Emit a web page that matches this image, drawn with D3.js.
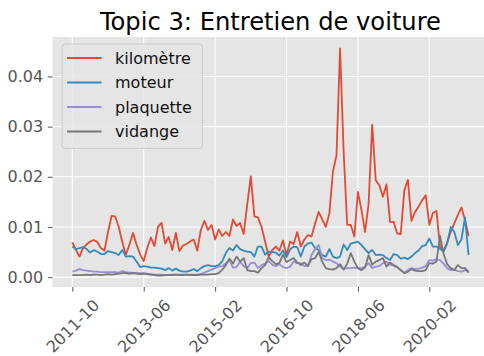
<!DOCTYPE html>
<html>
<head>
<meta charset="utf-8">
<script src="https://cdn.jsdelivr.net/npm/d3@7"></script>
<style>
  html, body { margin: 0; padding: 0; background: #ffffff; }
  svg { display: block; font-family: "DejaVu Sans", sans-serif; }
</style>
</head>
<body>
<svg id="chart" width="484" height="356"></svg>
<script>
// Monthly keyword frequencies, October 2011 to January 2021
const startMonth = new Date(2011, 9, 1);

const kilometre = [
  0.0069, 0.0055, 0.0041, 0.0058, 0.0065, 0.0071, 0.0074, 0.0070, 0.0058, 0.0053,
  0.0090, 0.0122, 0.0121, 0.0100, 0.0070, 0.0044, 0.0065, 0.0088, 0.0065, 0.0045,
  0.0032, 0.0058, 0.0079, 0.0062, 0.0100, 0.0108, 0.0067, 0.0080, 0.0054, 0.0088,
  0.0052, 0.0063, 0.0066, 0.0071, 0.0075, 0.0053, 0.0094, 0.0112, 0.0094, 0.0104,
  0.0075, 0.0095, 0.0082, 0.0090, 0.0082, 0.0115, 0.0102, 0.0108, 0.0086, 0.0145,
  0.0201, 0.0121, 0.0119, 0.0100, 0.0071, 0.0041, 0.0054, 0.0061, 0.0053, 0.0073,
  0.0044, 0.0071, 0.0066, 0.0090, 0.0061, 0.0075, 0.0084, 0.0081, 0.0107, 0.0130,
  0.0115, 0.0100, 0.0127, 0.0210, 0.0243, 0.0456, 0.0250, 0.0104, 0.0104, 0.0081,
  0.0170, 0.0134, 0.0090, 0.0147, 0.0304, 0.0193, 0.0183, 0.0160, 0.0185, 0.0110,
  0.0110, 0.0087, 0.0086, 0.0173, 0.0194, 0.0112, 0.0130, 0.0141, 0.0153, 0.0163,
  0.0104, 0.0128, 0.0132, 0.0061, 0.0053, 0.0069, 0.0090, 0.0107, 0.0124, 0.0139,
  0.0114, 0.0082
];

const moteur = [
  0.0061, 0.0056, 0.0058, 0.0060, 0.0056, 0.0049, 0.0054, 0.0051, 0.0046, 0.0046,
  0.0052, 0.0050, 0.0048, 0.0044, 0.0054, 0.0041, 0.0042, 0.0041, 0.0031, 0.0020,
  0.0022, 0.0021, 0.0019, 0.0019, 0.0018, 0.0017, 0.0014, 0.0018, 0.0013, 0.0017,
  0.0013, 0.0011, 0.0011, 0.0013, 0.0016, 0.0012, 0.0018, 0.0022, 0.0024, 0.0022,
  0.0022, 0.0024, 0.0032, 0.0048, 0.0058, 0.0053, 0.0064, 0.0056, 0.0053, 0.0051,
  0.0050, 0.0041, 0.0061, 0.0061, 0.0045, 0.0051, 0.0050, 0.0049, 0.0043, 0.0053,
  0.0040, 0.0055, 0.0061, 0.0060, 0.0041, 0.0061, 0.0067, 0.0069, 0.0058, 0.0054,
  0.0044, 0.0041, 0.0056, 0.0041, 0.0038, 0.0041, 0.0065, 0.0054, 0.0067, 0.0069,
  0.0071, 0.0064, 0.0056, 0.0048, 0.0054, 0.0044, 0.0045, 0.0044, 0.0038, 0.0034,
  0.0046, 0.0044, 0.0037, 0.0039, 0.0036, 0.0041, 0.0048, 0.0053, 0.0062, 0.0064,
  0.0077, 0.0061, 0.0061, 0.0056, 0.0051, 0.0067, 0.0100, 0.0090, 0.0064, 0.0075,
  0.0119, 0.0044
];

const plaquette = [
  0.0011, 0.0013, 0.0016, 0.0014, 0.0013, 0.0012, 0.0011, 0.0011, 0.0010, 0.0010,
  0.0010, 0.0010, 0.0010, 0.0009, 0.0012, 0.0010, 0.0009, 0.0009, 0.0008, 0.0008,
  0.0008, 0.0007, 0.0006, 0.0005, 0.0005, 0.0005, 0.0004, 0.0004, 0.0005, 0.0005,
  0.0005, 0.0005, 0.0005, 0.0005, 0.0005, 0.0005, 0.0006, 0.0009, 0.0012, 0.0015,
  0.0018, 0.0021, 0.0022, 0.0028, 0.0034, 0.0019, 0.0020, 0.0031, 0.0022, 0.0018,
  0.0028, 0.0029, 0.0018, 0.0024, 0.0027, 0.0032, 0.0025, 0.0022, 0.0026, 0.0020,
  0.0018, 0.0021, 0.0031, 0.0028, 0.0028, 0.0022, 0.0023, 0.0044, 0.0056, 0.0064,
  0.0038, 0.0034, 0.0035, 0.0031, 0.0028, 0.0021, 0.0016, 0.0018, 0.0018, 0.0019,
  0.0018, 0.0018, 0.0021, 0.0028, 0.0018, 0.0021, 0.0022, 0.0028, 0.0031, 0.0025,
  0.0023, 0.0020, 0.0014, 0.0009, 0.0014, 0.0018, 0.0016, 0.0017, 0.0019, 0.0022,
  0.0034, 0.0033, 0.0036, 0.0034, 0.0027, 0.0018, 0.0014, 0.0015, 0.0012, 0.0011,
  0.0014, 0.0012
];

const vidange = [
  0.0004, 0.0004, 0.0004, 0.0004, 0.0005, 0.0004, 0.0005, 0.0005, 0.0004, 0.0005,
  0.0006, 0.0005, 0.0006, 0.0007, 0.0008, 0.0008, 0.0007, 0.0008, 0.0007, 0.0006,
  0.0007, 0.0006, 0.0005, 0.0004, 0.0003, 0.0003, 0.0004, 0.0004, 0.0004, 0.0005,
  0.0004, 0.0004, 0.0005, 0.0004, 0.0004, 0.0004, 0.0005, 0.0005, 0.0005, 0.0006,
  0.0006, 0.0008, 0.0015, 0.0024, 0.0037, 0.0027, 0.0041, 0.0031, 0.0038, 0.0014,
  0.0012, 0.0012, 0.0009, 0.0018, 0.0024, 0.0040, 0.0032, 0.0026, 0.0028, 0.0045,
  0.0030, 0.0034, 0.0038, 0.0029, 0.0024, 0.0029, 0.0022, 0.0036, 0.0038, 0.0050,
  0.0031, 0.0018, 0.0016, 0.0015, 0.0018, 0.0026, 0.0015, 0.0027, 0.0048, 0.0031,
  0.0018, 0.0014, 0.0019, 0.0044, 0.0025, 0.0031, 0.0034, 0.0038, 0.0021, 0.0029,
  0.0024, 0.0020, 0.0014, 0.0008, 0.0011, 0.0016, 0.0013, 0.0012, 0.0012, 0.0014,
  0.0028, 0.0027, 0.0031, 0.0082, 0.0046, 0.0026, 0.0018, 0.0014, 0.0024, 0.0018,
  0.0018, 0.0009
];

const seriesNames = ["kilomètre", "moteur", "plaquette", "vidange"];
const seriesColors = ["#E24A33", "#348ABD", "#988ED5", "#777777"];
const yTickValues = [0, 0.01, 0.02, 0.03, 0.04];
const xTickLabels = ["2011-10", "2013-06", "2015-02", "2016-10", "2018-06", "2020-02"];
const titleText = "Topic 3: Entretien de voiture";

const seriesValues = [kilometre, moteur, plaquette, vidange];
const months = d3.timeMonth.range(startMonth, d3.timeMonth.offset(startMonth, kilometre.length));
const monthFmt = d3.timeFormat("%Y-%m");
const monthLabels = months.map(monthFmt);

const svg = d3.select("#chart");
const plot = { left: 52.5, right: 488.4, top: 37, bottom: 287 };

// 5% padding on both axes around the data extent
const n = kilometre.length;
const xPad = (n - 1) * 0.05;
const x = d3.scaleLinear()
  .domain([-xPad, (n - 1) + xPad])
  .range([plot.left, plot.right]);

const allVals = seriesValues.flat();
const yMin = d3.min(allVals), yMax = d3.max(allVals);
const yPad = (yMax - yMin) * 0.05;
const y = d3.scaleLinear()
  .domain([yMin - yPad, yMax + yPad])
  .range([plot.bottom, plot.top]);

svg.append("defs").append("clipPath").attr("id", "plotClip")
  .append("rect")
  .attr("x", plot.left).attr("y", plot.top)
  .attr("width", plot.right - plot.left).attr("height", plot.bottom - plot.top);

// Panel background
svg.append("rect")
  .attr("x", plot.left).attr("y", plot.top)
  .attr("width", plot.right - plot.left).attr("height", plot.bottom - plot.top)
  .attr("fill", "#E5E5E5");

// Tick positions on the month index
const xTickIdx = xTickLabels.map(l => monthLabels.indexOf(l));

// Grid
const grid = svg.append("g").attr("clip-path", "url(#plotClip)");
grid.selectAll("line.gx").data(xTickIdx).join("line")
  .attr("x1", d => x(d)).attr("x2", d => x(d))
  .attr("y1", plot.top).attr("y2", plot.bottom)
  .attr("stroke", "#ffffff").attr("stroke-width", 1.1);
grid.selectAll("line.gy").data(yTickValues).join("line")
  .attr("x1", plot.left).attr("x2", plot.right)
  .attr("y1", d => y(d)).attr("y2", d => y(d))
  .attr("stroke", "#ffffff").attr("stroke-width", 1.1);

// Axes
const xAxis = d3.axisBottom(x)
  .tickValues(xTickIdx)
  .tickFormat((d, i) => xTickLabels[i])
  .tickSize(4.7)
  .tickPadding(4.7);
const gx = svg.append("g")
  .attr("transform", `translate(0,${plot.bottom})`)
  .call(xAxis);
gx.select(".domain").remove();
gx.selectAll(".tick line").attr("stroke", "#555555").attr("stroke-width", 1);
gx.selectAll(".tick text")
  .attr("fill", "#555555")
  .attr("font-size", 16)
  .attr("font-family", "DejaVu Sans")
  .attr("y", 0).attr("dy", "0.35em")
  .attr("text-anchor", "middle")
  .attr("transform", "translate(0,39) rotate(-45)");

const yAxis = d3.axisLeft(y)
  .tickValues(yTickValues)
  .tickFormat(d3.format(".2f"))
  .tickSize(4.7)
  .tickPadding(4.7);
const gy = svg.append("g")
  .attr("transform", `translate(${plot.left},0)`)
  .call(yAxis);
gy.select(".domain").remove();
gy.selectAll(".tick line").attr("stroke", "#555555").attr("stroke-width", 1);
gy.selectAll(".tick text")
  .attr("fill", "#555555")
  .attr("font-size", 16)
  .attr("font-family", "DejaVu Sans");

// Series lines
const line = d3.line()
  .x((d, i) => x(i))
  .y(d => y(d));
const linesG = svg.append("g").attr("clip-path", "url(#plotClip)");
seriesValues.forEach((vals, k) => {
  linesG.append("path")
    .datum(vals)
    .attr("d", line)
    .attr("fill", "none")
    .attr("stroke", seriesColors[k])
    .attr("stroke-width", 1.8)
    .attr("stroke-linejoin", "round");
});

// Title
svg.append("text")
  .attr("x", (plot.left + plot.right) / 2)
  .attr("y", 29.5)
  .attr("text-anchor", "middle")
  .attr("font-size", 24.2)
  .attr("fill", "#000000")
  .text(titleText);

// Legend
const legend = svg.append("g");
legend.append("rect")
  .attr("x", 62).attr("y", 44)
  .attr("width", 140.5).attr("height", 104.5)
  .attr("rx", 3.5)
  .attr("fill", "#E5E5E5").attr("fill-opacity", 0.85)
  .attr("stroke", "#CCCCCC").attr("stroke-width", 1);
seriesNames.forEach((name, k) => {
  const cy = 58 + k * 24.5;
  legend.append("line")
    .attr("x1", 67).attr("x2", 101.5)
    .attr("y1", cy).attr("y2", cy)
    .attr("stroke", seriesColors[k]).attr("stroke-width", 1.8);
  legend.append("text")
    .attr("x", 115).attr("y", cy).attr("dy", "0.35em")
    .attr("font-size", 16)
    .attr("fill", "#111111")
    .text(name);
});
</script>
</body>
</html>
